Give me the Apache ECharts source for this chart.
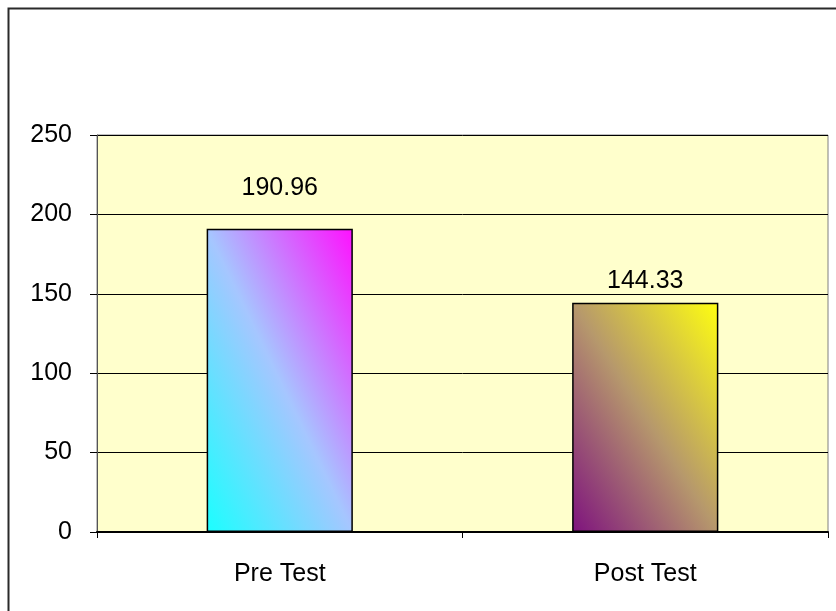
<!DOCTYPE html>
<html>
<head>
<meta charset="utf-8">
<script src="https://cdn.jsdelivr.net/npm/echarts@6/dist/echarts.min.js"></script>
<style>
html,body{margin:0;padding:0;background:#fff;}
#chart{width:836px;height:611px;}
</style>
</head>
<body>
<div id="chart"></div>
<script>
var categories = ['Pre Test', 'Post Test'];
var values = [190.96, 144.33];
var labelTexts = ['190.96', '144.33'];
var yTicks = [0, 50, 100, 150, 200, 250];

var gradients = [
  [['#1AFFFF', 0], ['#A6C6FF', 0.5], ['#FF10FF', 1]],
  [['#7E127E', 0], ['#B6986C', 0.5], ['#FFFF10', 1]]
];
var labelDist = [28, 9];

// diagonal gradient in the Excel style: isolines run along the TL-BR diagonal
function grad(stops, w, h) {
  var s = w * w + h * h;
  var ax = h * h / s, ay = w * w / s;
  return new echarts.graphic.LinearGradient(0.5 - ax, 0.5 + ay, 0.5 + ax, 0.5 - ay,
    stops.map(function (st) { return { offset: st[1], color: st[0] }; }));
}

var chart = echarts.init(document.getElementById('chart'), null, { renderer: 'canvas' });
var font = 'Liberation Sans, Arial, Helvetica, sans-serif';

function buildData(sizes) {
  return values.map(function (v, i) {
    return {
      value: v,
      itemStyle: { color: grad(gradients[i], sizes[i][0], sizes[i][1]), borderColor: '#000', borderWidth: 1.5 },
      label: {
        show: true,
        position: 'top',
        distance: labelDist[i],
        formatter: labelTexts[i],
        fontSize: 25,
        color: '#000',
        fontFamily: font
      }
    };
  });
}

chart.setOption({
  animation: false,
  textStyle: { fontFamily: font },
  graphic: [{
    type: 'rect',
    shape: { x: 8.5, y: 8.5, width: 900, height: 700 },
    style: { fill: 'none', stroke: '#2a2a2a', lineWidth: 2 },
    silent: true,
    z: 100
  }],
  grid: {
    left: 97, right: 8, top: 135, bottom: 79,
    show: true,
    backgroundColor: '#FFFFCC',
    borderColor: '#808080',
    borderWidth: 1
  },
  xAxis: {
    type: 'category',
    data: categories,
    boundaryGap: true,
    axisLine: { show: true, lineStyle: { color: '#000', width: 2 } },
    axisTick: { show: true, length: 6, interval: 0, lineStyle: { color: '#000', width: 1 } },
    axisLabel: { fontSize: 25, color: '#000', margin: 30, fontFamily: font },
    splitLine: { show: false }
  },
  yAxis: {
    type: 'value',
    min: yTicks[0],
    max: yTicks[yTicks.length - 1],
    interval: yTicks[1] - yTicks[0],
    axisLine: { show: true, lineStyle: { color: '#555', width: 1 } },
    axisTick: { show: true, length: 7, lineStyle: { color: '#000', width: 1 } },
    axisLabel: { fontSize: 25, color: '#000', margin: 25, fontFamily: font, padding: [5, 0, 0, 0] },
    splitLine: { show: true, lineStyle: { color: '#000', width: 1 } }
  },
  series: [{
    type: 'bar',
    barWidth: '40%',
    data: buildData([[146, 300], [146, 229]])
  }]
});

// measure the actual bar sizes through the library's scales, then refine gradients
var sizes = values.map(function (v, i) {
  var lay = chart.getModel().getSeriesByIndex(0).getData().getItemLayout(i);
  return [Math.abs(lay.width), Math.abs(lay.height)];
});
chart.setOption({ series: [{ data: buildData(sizes) }] });
</script>
</body>
</html>
